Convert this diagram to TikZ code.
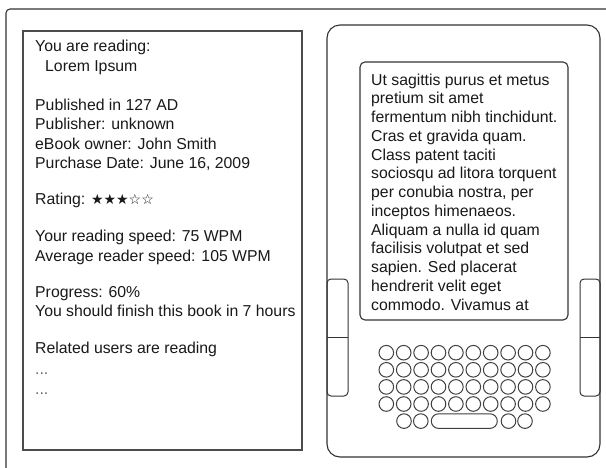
\documentclass[tikz,border=0pt]{standalone}
\usepackage{fontspec}
\setmainfont{Liberation Sans}
\newfontfamily\symfont{DejaVu Sans}
\begin{document}
\begin{tikzpicture}[x=1pt,y=-1pt,
  outline/.style={draw=black!80, line width=1.1pt},
  txt/.style={inner sep=0pt, anchor=base west, text=black!90,
    font=\fontsize{15.8}{18}\selectfont},
  key/.style={draw=black!75, line width=1pt, circle, minimum size=14.6pt, inner sep=0pt},
  spacebar/.style={draw=black!75, line width=1pt, rectangle, rounded corners=7.3pt,
    minimum width=66pt, minimum height=14.6pt, inner sep=0pt},
  sidekey/.style={draw=black!80, line width=1pt, rounded corners=4pt}]
\useasboundingbox (0,0) rectangle (606,467);
\fill[white] (0,0) rectangle (606,467);

% outer window frame (runs off the right and bottom edges)
\draw[outline, rounded corners=4pt] (6,470) -- (6,9) -- (610,9);

% information panel
\draw[outline, draw=black!70] (23,31) rectangle (302,450);
\node[txt] (l1)  at (35,51.7)  {You are reading:};
\node[txt] (l2)  at (45,71.7)  {Lorem Ipsum};
\node[txt] (l3)  at (35,110)   {Published in 127 AD};
\node[txt] (l4)  at (35,129.5) {Publisher: unknown};
\node[txt] (l5)  at (35,149)   {eBook owner: John Smith};
\node[txt] (l6)  at (35,168.5) {Purchase Date: June 16, 2009};
\node[txt] (l7)  at (35,204)   {Rating: {\symfont\fontsize{14}{14}\selectfont ★★★☆☆}};
\node[txt] (l8)  at (35,241.7) {Your reading speed: 75 WPM};
\node[txt] (l9)  at (35,261)   {Average reader speed: 105 WPM};
\node[txt] (l10) at (35,297)   {Progress: 60\%};
\node[txt] (l11) at (35,316.5) {You should finish this book in 7 hours};
\node[txt] (l12) at (35,353.5) {Related users are reading};
\node[txt, text=black!60] (l13) at (35,374) {...};
\node[txt, text=black!60] (l14) at (35,394) {...};

% e-reader body
\draw[outline] (327,25) [rounded corners=13pt] rectangle (600,457);
% screen
\draw[outline] (360,62) [rounded corners=5pt] rectangle (568,320);
\foreach \t [count=\i from 0] in {
  {Ut sagittis purus et metus},
  {pretium sit amet},
  {fermentum nibh tinchidunt.},
  {Cras et gravida quam.},
  {Class patent taciti},
  {sociosqu ad litora torquent},
  {per conubia nostra, per},
  {inceptos himenaeos.},
  {Aliquam a nulla id quam},
  {facilisis volutpat et sed},
  {sapien. Sed placerat},
  {hendrerit velit eget},
  {commodo. Vivamus at}}
  \node[txt] (s\i) at (371,85+18.75*\i) {\t};

% page-turn keys
\draw[sidekey] (327,279) rectangle (348,396);
\draw[line width=1pt, draw=black!80] (327,337.5) -- (348,337.5);
\draw[sidekey] (580,279) rectangle (600,396);
\draw[line width=1pt, draw=black!80] (580,337.5) -- (600,337.5);

% keyboard
\foreach \r in {0,...,3}
  \foreach \c in {0,...,9}
    \node[key] (k\r\c) at (386.3+17.4*\c, 352.7+17.1*\r) {};
\node[key] (k40) at (404,421.1) {};
\node[key] (k41) at (420.8,421.1) {};
\node[spacebar] (space) at (464.3,421.1) {};
\node[key] (k42) at (508.5,421.1) {};
\node[key] (k43) at (525,421.1) {};
\end{tikzpicture}
\end{document}
